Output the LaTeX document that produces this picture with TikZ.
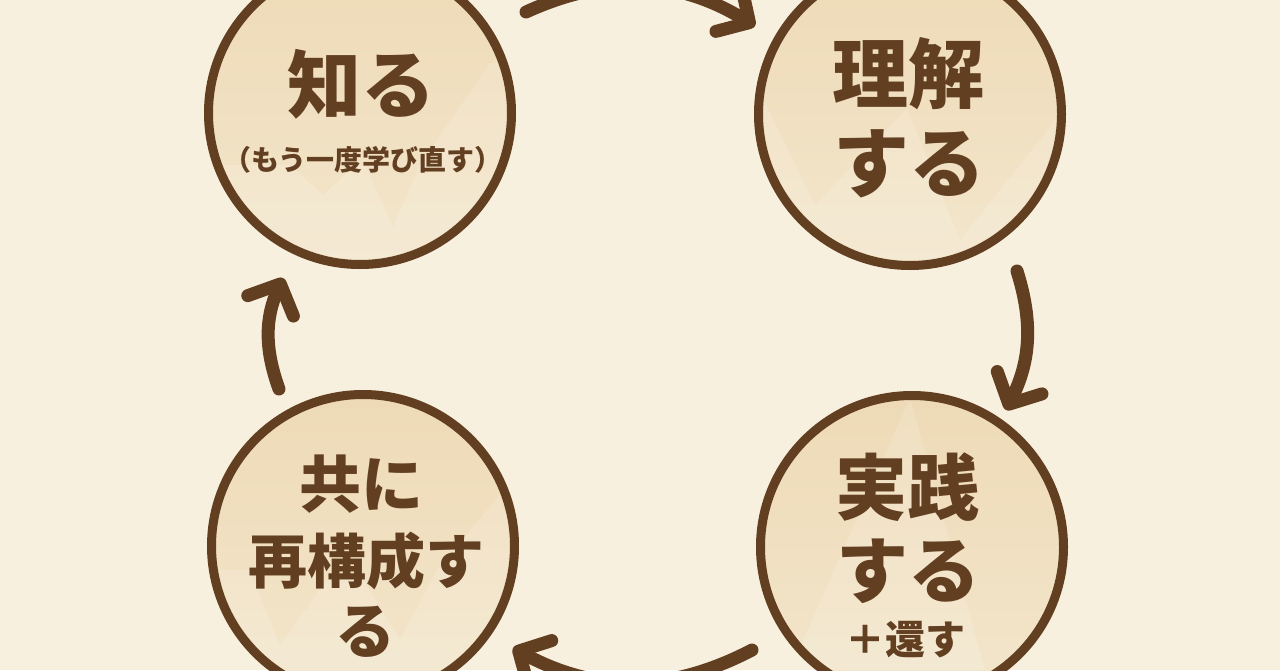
\documentclass[tikz,border=0pt]{standalone}
\usepackage{fontspec}
\newfontfamily\jp{Noto Sans CJK JP}
\usetikzlibrary{arrows.meta}
\definecolor{bg}{HTML}{F8F0DE}
\definecolor{ink}{HTML}{633F22}
\definecolor{fillt}{HTML}{EEDAB6}
\definecolor{fillb}{HTML}{F3E6CC}
\begin{document}
\begin{tikzpicture}[x=1pt,y=-1pt,
  stage/.style={circle, draw=ink, line width=9pt, minimum size=303pt, inner sep=0pt,
                top color=fillt, bottom color=fillb},
  stipple/.style={fill=white, opacity=0.15},
  lbl/.style={font=\jp\bfseries\fontsize{#1}{#1}\selectfont, text=ink, inner sep=0pt, anchor=base},
  cyc/.style={draw=ink, line width=13pt, line cap=round,
              -{Straight Barb[length=24pt,width=50pt,round]}}
]
\useasboundingbox (0,0) rectangle (1280,670);
\fill[bg] (0,0) rectangle (1280,670);
\clip (0,0) rectangle (1280,670);

% circles
\node[stage] (know) at (360,113) {};
\node[stage] (understand) at (910,114) {};
\node[stage] (practice) at (912,547) {};
\node[stage] (rebuild) at (363,546) {};

% faint mountain texture
\begin{scope}
  \clip (360,113) circle[radius=146pt];
  \fill[stipple] (195,165) -- (290,165) -- (323,195) -- (356,165) -- (365,165) -- (393,227) -- (420,165) -- (490,63) -- (530,63) -- (530,300) -- (195,300) -- cycle;
\end{scope}
\begin{scope}
  \clip (910,114) circle[radius=146pt];
  \fill[stipple] (750,72) -- (815,205) -- (907,108) -- (960,240) -- (1060,115) -- (1070,300) -- (740,300) -- cycle;
\end{scope}
\begin{scope}
  \clip (912,547) circle[radius=146pt];
  \fill[stipple] (910,398) -- (985,670) -- (790,670) -- cycle;
\end{scope}
\begin{scope}
  \clip (363,546) circle[radius=146pt];
  \fill[stipple] (200,570) -- (250,570) -- (280,645) -- (330,575) -- (360,575) -- (400,640) -- (440,565) -- (500,495) -- (530,495) -- (530,720) -- (200,720) -- cycle;
\end{scope}

% labels
\node[lbl=74] (t1a) at (361,112) {知る};
\node[lbl=28] (t1b) at (363,170) {（もう一度学び直す）};
\node[lbl=76] (t2a) at (908,102) {理解};
\node[lbl=76] (t2b) at (909,191) {する};
\node[lbl=72] (t3a) at (907,514) {実践};
\node[lbl=72] (t3b) at (908,597) {する};
\node[lbl=40] (t3c) at (905,654) {＋還す};
\node[lbl=62] (t4a) at (361,507) {共に};
\node[lbl=59] (t4b) at (366,583) {再構成す};
\node[lbl=60] (t4c) at (365,653) {る};

% cycle arrows
\coordinate (a1s) at (526,12);
\coordinate (a1e) at (755,26);
\coordinate (a2s) at (1017,271);
\coordinate (a2e) at (1006,410);
\coordinate (a3s) at (752,650);
\coordinate (a3e) at (513,648);
\coordinate (a4s) at (279,389);
\coordinate (a4e) at (283,278);

\draw[cyc] (a1s) to[bend left=28] (a1e);
\draw[cyc] (a2s) to[bend left=22] (a2e);
\draw[cyc] (a3s) to[bend left=28] (a3e);
\draw[cyc] (a4s) to[bend left=22] (a4e);
\end{tikzpicture}
\end{document}
